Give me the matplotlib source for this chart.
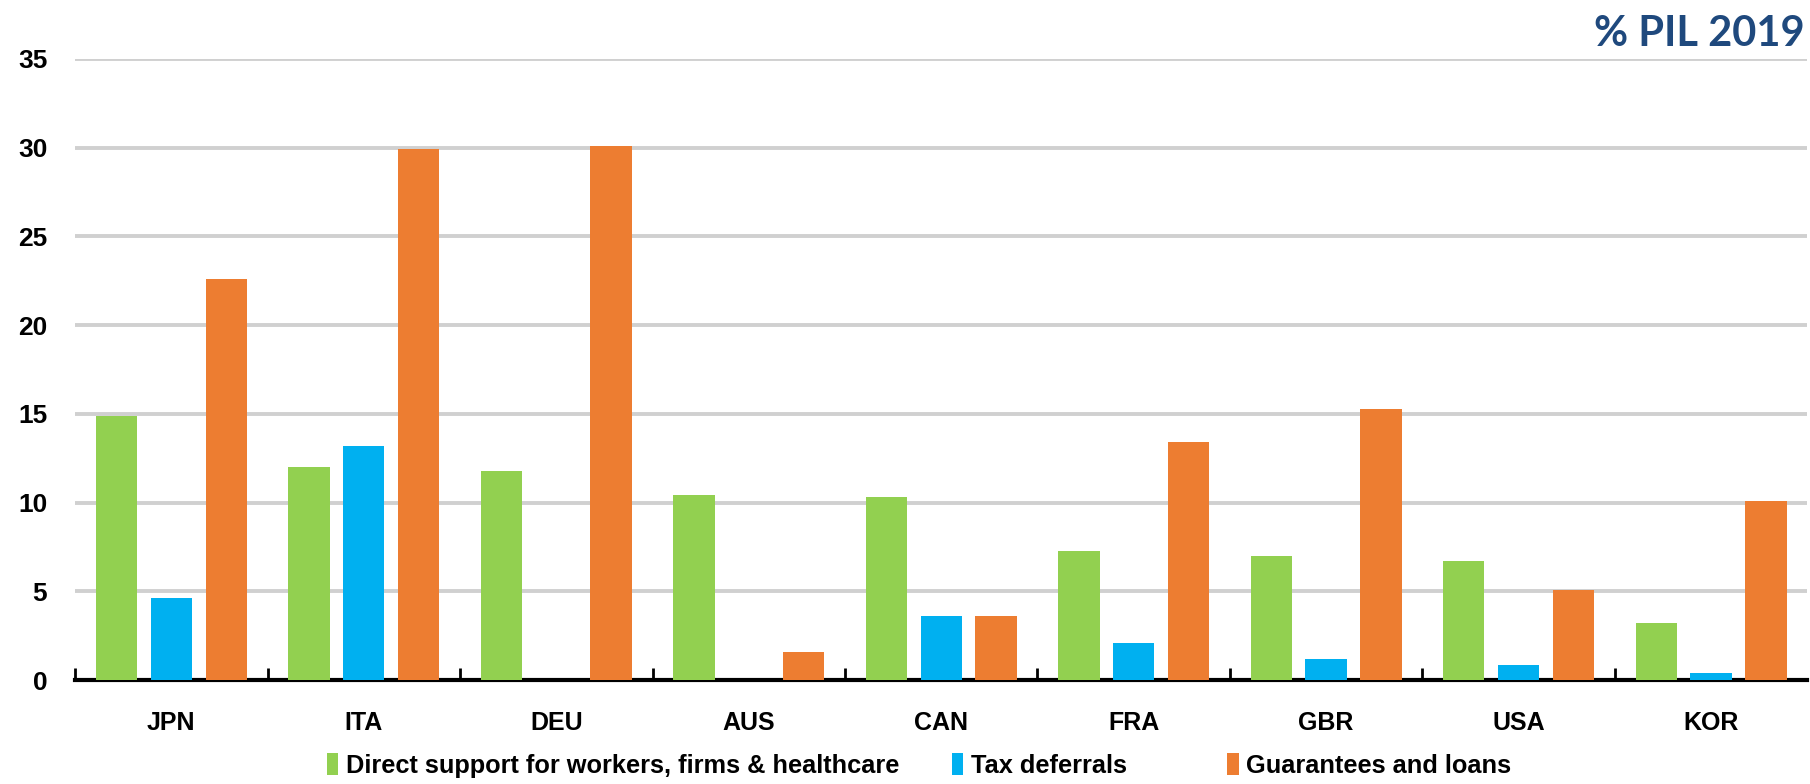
import numpy as np
import matplotlib.pyplot as plt
from matplotlib.patches import Patch

# Data (% of 2019 GDP)
countries = ["JPN", "ITA", "DEU", "AUS", "CAN", "FRA", "GBR", "USA", "KOR"]
direct_support = [14.9, 12.0, 11.8, 10.4, 10.3, 7.3, 7.0, 6.7, 3.2]
tax_deferrals = [4.6, 13.2, 0.0, 0.0, 3.6, 2.1, 1.2, 0.85, 0.4]
guarantees_loans = [22.6, 29.9, 30.1, 1.6, 3.6, 13.4, 15.3, 5.1, 10.1]

series_names = ["Direct support for workers, firms & healthcare",
                "Tax deferrals", "Guarantees and loans"]
colors = ["#92D050", "#00B0F0", "#ED7D31"]

font = ["Liberation Sans", "DejaVu Sans"]

fig = plt.figure(figsize=(18.1, 7.84), dpi=100)
ax = fig.add_axes([0.0415, 0.1325, 0.957, 0.7925])

x = np.arange(len(countries))
step = 0.285
width = 0.215
for i, (vals, col) in enumerate(zip([direct_support, tax_deferrals, guarantees_loans], colors)):
    ax.bar(x + (i - 1) * step, vals, width, color=col, zorder=3)

ax.set_xlim(-0.5, len(countries) - 0.5)
ax.set_ylim(0, 35)
ax.set_yticks(range(0, 36, 5))
ax.yaxis.grid(True, color="#D0D0D0", linewidth=2.8, zorder=0)
ax.set_axisbelow(True)

for s in ["top", "right", "left"]:
    ax.spines[s].set_visible(False)
ax.spines["bottom"].set_linewidth(3)
ax.spines["bottom"].set_color("black")

# category labels at centres, tick marks on the boundaries
ax.set_xticks(x)
ax.set_xticklabels(countries, fontfamily=font, fontweight="bold", fontsize=18)
ax.tick_params(axis="x", length=0, pad=22)
ax.set_xticks(np.arange(-0.5, len(countries) - 0.5, 1), minor=True)
ax.tick_params(axis="x", which="minor", direction="in", length=9, width=2, color="black")

ax.tick_params(axis="y", length=0, pad=20)
for lab in ax.get_yticklabels():
    lab.set_fontfamily(font)
    lab.set_fontweight("bold")
    lab.set_fontsize(19)

# legend entries placed one by one, like the original's uneven spacing
legend_x = [0.1805, 0.526, 0.678]
for name, col, lx in zip(series_names, colors, legend_x):
    fig.legend([Patch(facecolor=col, edgecolor="none")], [name], loc="center left",
               bbox_to_anchor=(lx, 0.024), frameon=False, borderpad=0, borderaxespad=0,
               prop={"family": font, "size": 18.3, "weight": "bold"},
               handlelength=0.45, handleheight=1.0, handletextpad=0.3)

fig.text(0.997, 0.956, "% PIL 2019", ha="right", va="center", color="#1F497D",
         fontsize=30, fontweight="bold", fontfamily=["Lato", "DejaVu Sans"])

fig.savefig("out.png", dpi=100)
